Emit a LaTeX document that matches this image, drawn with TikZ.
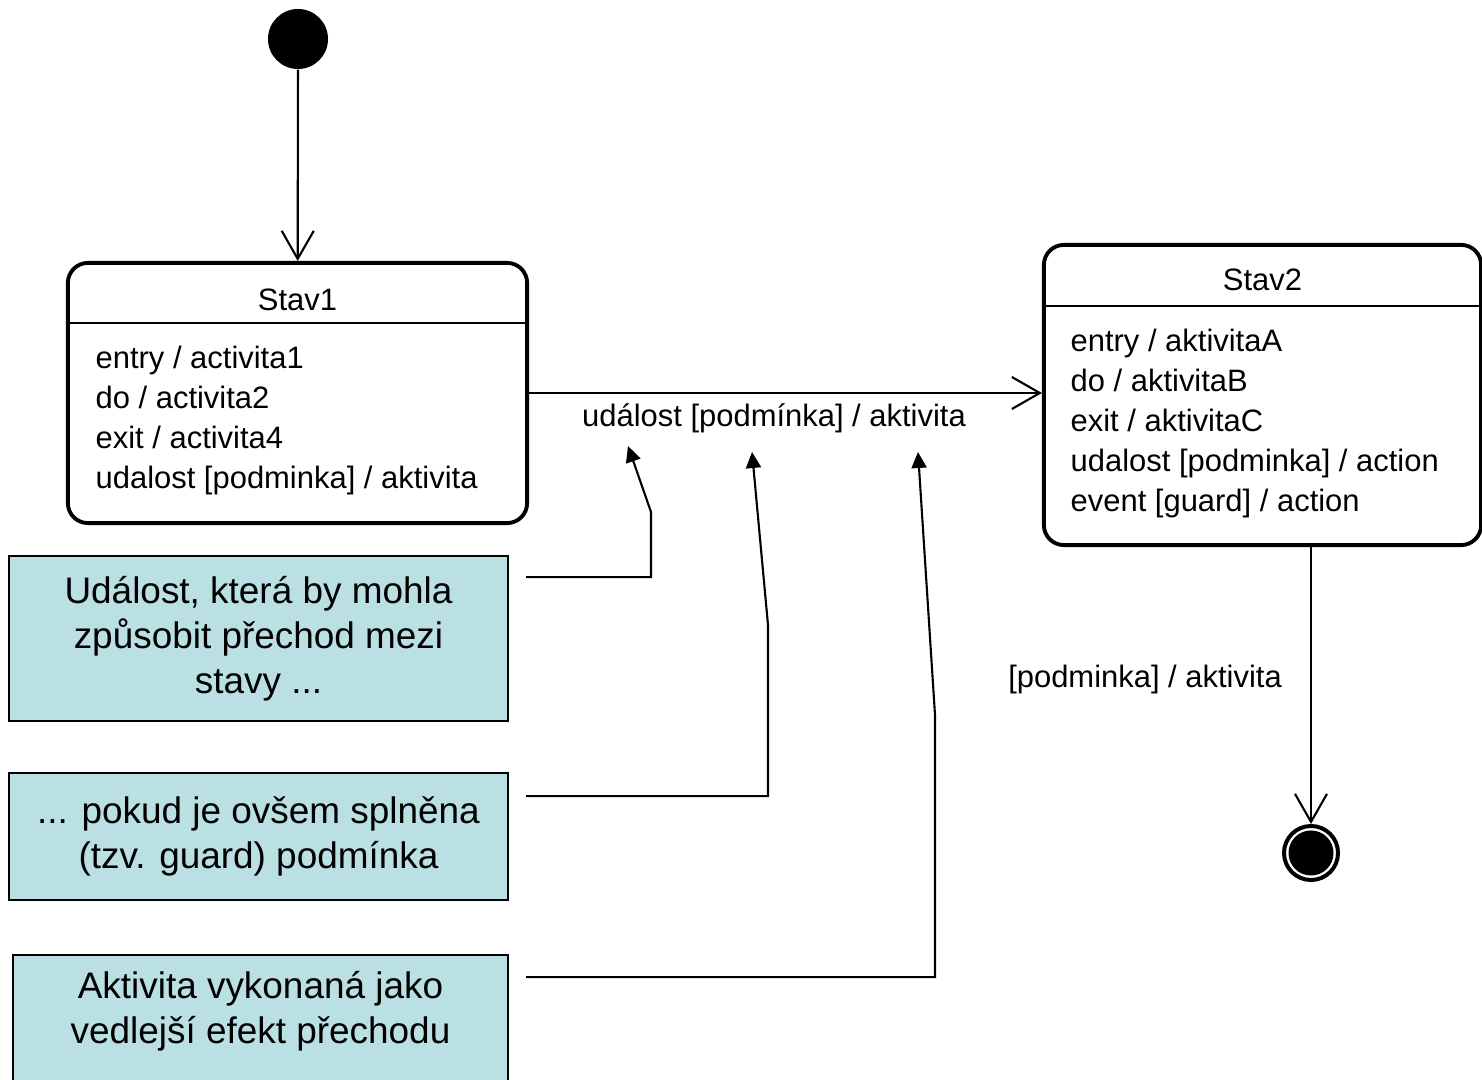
\documentclass[tikz,border=0pt]{standalone}
\usepackage{fontspec}
\setmainfont{Liberation Sans}
\usetikzlibrary{arrows.meta, positioning}
\definecolor{noteblue}{RGB}{187,224,227}

\begin{document}
\begin{tikzpicture}[x=0.01cm, y=-0.01cm,
			state/.style={draw, rectangle, rounded corners=0.2cm, line width=1.1pt},
			umltext/.style={font=\fontsize{8.8}{11.4}\selectfont, inner sep=0pt, align=left},
			note/.style={draw, rectangle, fill=noteblue, line width=0.5pt, align=center, font=\fontsize{10.5}{12.8}\selectfont},
			trans/.style={-{Straight Barb[length=0.28cm, width=0.32cm]}, line width=0.6pt},
			pointer/.style={-{Triangle[length=0.16cm, width=0.15cm]}, line width=0.6pt}
			]
			\useasboundingbox (0,0) rectangle (1482,1080);
			
			% Nodes
			\node (init) [circle, fill=black, minimum size=0.6cm, inner sep=0pt] at (298,39) {};
			\node (stav1) [state, minimum width=4.59cm, minimum height=2.6cm] at (297.5,393) {};
			\node (stav1name) [umltext] at ([yshift=-0.39cm]stav1.north) {Stav1};
			\draw [line width=0.6pt] ([yshift=-0.62cm]stav1.north west) -- ([yshift=-0.62cm]stav1.north east);
			\node (stav1body) [umltext, anchor=north west] at ([shift={(0.29cm,-0.84cm)}]stav1.north west) {entry / activita1\\do / activita2\\exit / activita4\\udalost [podminka] / aktivita};
			
			\node (stav2) [state, minimum width=4.37cm, minimum height=3cm] at (1262.5,395) {};
			\node (stav2name) [umltext] at ([yshift=-0.37cm]stav2.north) {Stav2};
			\draw [line width=0.6pt] ([yshift=-0.63cm]stav2.north west) -- ([yshift=-0.63cm]stav2.north east);
			\node (stav2body) [umltext, anchor=north west] at ([shift={(0.28cm,-0.85cm)}]stav2.north west) {entry / aktivitaA\\do / aktivitaB\\exit / aktivitaC\\udalost [podminka] / action\\event [guard] / action};
			
			\node (enddot) [circle, draw, line width=0.04cm, fill=white, minimum size=0.54cm, inner sep=0pt] at (1311,853) {};
			\node (enddotin) [circle, fill=black, minimum size=0.45cm, inner sep=0pt] at (enddot) {};
			
			\node (trlabel) [umltext] at (774,418) {událost [podmínka] / aktivita};
			\node (finlabel) [umltext] at (1145,680) {[podminka] / aktivita};
			
			\node (note1) [note, minimum width=4.99cm, minimum height=1.65cm] at (258.5,638.5) {Událost, která by mohla\\způsobit přechod mezi\\stavy ...};
			\node (note2) [note, minimum width=4.99cm, minimum height=1.27cm] at (258.5,836.5) {... pokud je ovšem splněna\\(tzv. guard) podmínka};
			\node (note3) [note, minimum width=4.95cm, minimum height=1.3cm, text depth=0.26cm] at (260.5,1020) {Aktivita vykonaná jako\\vedlejší efekt přechodu};
			
			\coordinate (evtip) at (628,446);
			\coordinate (gdtip) at (752,452);
			\coordinate (actip) at (918,452);
			
			% Connections
			\draw [trans] (init) -- (stav1);
			\draw [trans] (stav1.east) -- (stav1.east -| stav2.west);
			\draw [trans] (stav2.south -| enddot) -- (enddot);
			
			\draw [pointer] ([shift={(0.17cm,-0.22cm)}]note1.north east) -| (651,512) -- (evtip);
			\draw [pointer] ([shift={(0.17cm,-0.24cm)}]note2.north east) -| (768,625) -- (gdtip);
			\draw [pointer] ([shift={(0.17cm,-0.23cm)}]note3.north east) -| (935,715) -- (actip);
			
		\end{tikzpicture}
\end{document}
